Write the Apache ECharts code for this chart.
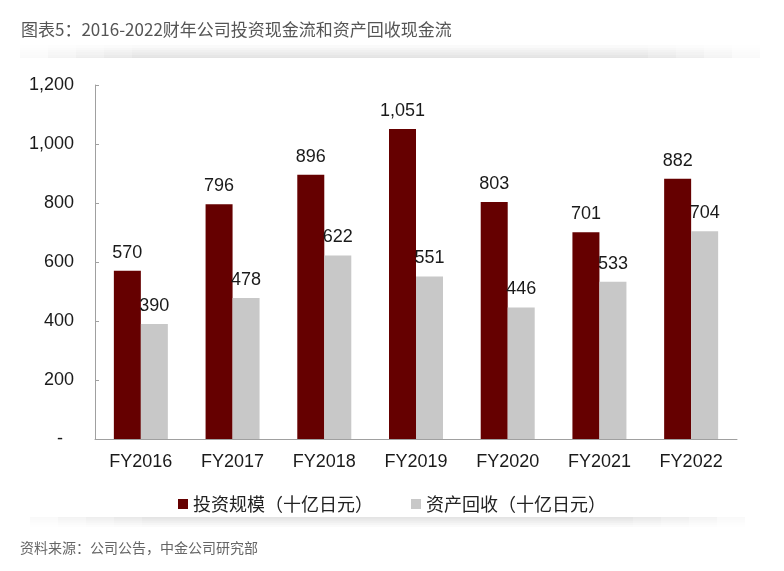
<!DOCTYPE html>
<html>
<head>
<meta charset="utf-8">
<title>图表5</title>
<script src="https://cdn.jsdelivr.net/npm/echarts@6/dist/echarts.min.js"></script>
<style>
  html, body { margin: 0; padding: 0; background: #fff; }
  .chart { width: 784px; height: 571px; }
</style>
</head>
<body>
<div class="chart"></div>
<script>
// 数据
var categories = ["FY2016", "FY2017", "FY2018", "FY2019", "FY2020", "FY2021", "FY2022"];
var investData = [570, 796, 896, 1051, 803, 701, 882];
var recoverData = [390, 478, 622, 551, 446, 533, 704];
var seriesNames = ["投资规模（十亿日元）", "资产回收（十亿日元）"];
var yTicks = { min: 0, max: 1200, interval: 200 };

// 千分位
function fmt(v) {
  return String(v).replace(/\B(?=(\d{3})+(?!\d))/g, ",");
}

// 阴影带: 几层叠加的渐变矩形, 两端逐渐变淡
function shadowBand(x0, x1, edgeY, depth, up) {
  var list = [];
  for (var i = 0; i < 5; i++) {
    var inset = i * 28;
    list.push({
      type: "rect", z: -10, silent: true,
      shape: { x: x0 + inset, y: up ? edgeY - depth : edgeY, width: x1 - x0 - inset * 2, height: depth },
      style: {
        fill: new echarts.graphic.LinearGradient(0, 0, 0, 1, [
          { offset: 0, color: up ? "rgba(0,0,0,0)" : "rgba(0,0,0,0.022)" },
          { offset: 1, color: up ? "rgba(0,0,0,0.022)" : "rgba(0,0,0,0)" }
        ])
      }
    });
  }
  return list;
}

(function () {
  var myChart = echarts.init(document.querySelector(".chart"));
  var numFont = "Liberation Sans, Arial, sans-serif";
  var cjkFont = "Noto Sans CJK SC, sans-serif";

  var option = {
    animation: false,
    color: ["#650000", "#c8c8c8"],
    title: [
      {
        text: "图表5：2016-2022财年公司投资现金流和资产回收现金流",
        left: 16,
        top: 16,
        textStyle: { color: "#555", fontSize: 17, fontWeight: "normal", fontFamily: cjkFont }
      },
      {
        text: "资料来源：公司公告，中金公司研究部",
        left: 15,
        top: 536,
        textStyle: { color: "#666", fontSize: 14, fontWeight: "normal", fontFamily: cjkFont }
      }
    ],
    // 上下两条阴影
    graphic: shadowBand(20, 760, 58, 14, true).concat(shadowBand(30, 745, 517, 11, false)),
    legend: {
      data: seriesNames,
      left: 173,
      top: 490,
      itemWidth: 10,
      itemHeight: 10,
      itemGap: 38,
      icon: "rect",
      textStyle: { color: "#222", fontSize: 18, fontFamily: cjkFont }
    },
    grid: {
      left: 95,
      right: 47,
      top: 85,
      bottom: 132
    },
    xAxis: {
      type: "category",
      data: categories,
      axisLine: { lineStyle: { color: "#a0a0a0", width: 1 } },
      axisTick: { inside: true, length: 4, lineStyle: { color: "#a0a0a0" } },
      axisLabel: { color: "#1a1a1a", fontSize: 18, fontFamily: numFont, margin: 14 }
    },
    yAxis: {
      type: "value",
      min: yTicks.min,
      max: yTicks.max,
      interval: yTicks.interval,
      splitLine: { show: false },
      axisLine: { show: true, lineStyle: { color: "#a0a0a0", width: 1 } },
      axisTick: { show: true, inside: true, length: 4, lineStyle: { color: "#a0a0a0" } },
      axisLabel: {
        color: "#1a1a1a",
        fontSize: 18,
        fontFamily: numFont,
        margin: 21,
        // 0 显示为 "-", 会计格式右边留空
        formatter: function (v) {
          return v === 0 ? "{dash|-}" : fmt(v);
        },
        rich: {
          dash: { color: "#1a1a1a", fontSize: 18, fontFamily: numFont, padding: [0, 11, 0, 0] }
        }
      }
    },
    series: [
      {
        name: seriesNames[0],
        type: "bar",
        data: investData,
        barWidth: 27,
        barGap: "0%",
        label: {
          show: true,
          position: "top",
          distance: 9,
          color: "#1a1a1a",
          fontSize: 18,
          fontFamily: numFont,
          formatter: function (p) { return fmt(p.value); }
        }
      },
      {
        name: seriesNames[1],
        type: "bar",
        data: recoverData,
        barWidth: 27,
        barGap: "0%",
        label: {
          show: true,
          position: "top",
          distance: 9,
          color: "#1a1a1a",
          fontSize: 18,
          fontFamily: numFont,
          formatter: function (p) { return fmt(p.value); }
        }
      }
    ]
  };

  myChart.setOption(option);
  window.addEventListener("resize", function () {
    myChart.resize();
  });
})();
</script>
</body>
</html>
